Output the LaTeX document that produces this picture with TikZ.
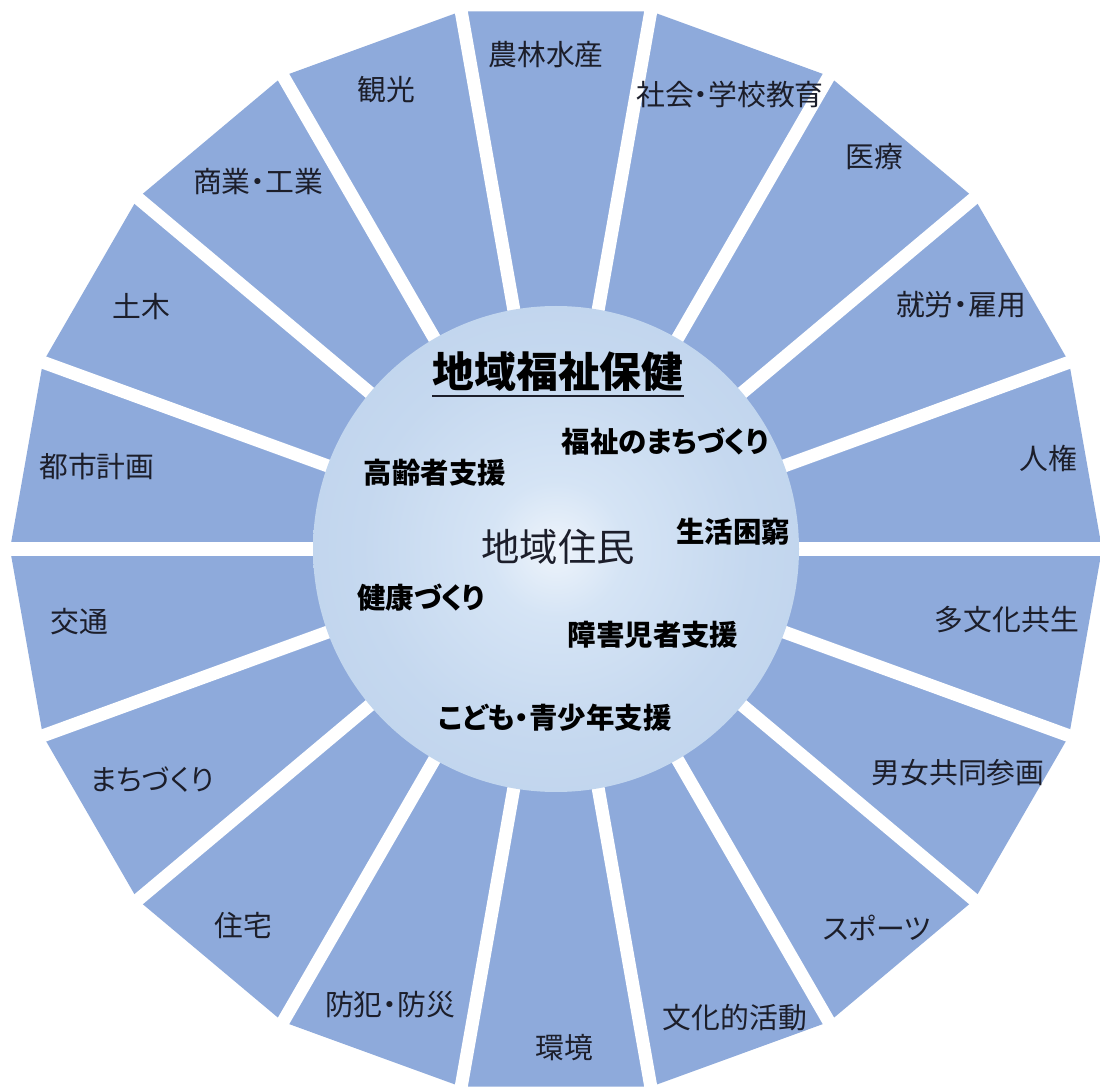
\documentclass[tikz,border=0pt]{standalone}
\usepackage{fontspec}
\setmainfont{Noto Sans CJK JP}[RawFeature=+palt]

\definecolor{wedgeblue}{RGB}{142,170,219}
\definecolor{ink}{RGB}{28,30,42}
\definecolor{glowA}{RGB}{238,244,251}
\definecolor{glowB}{RGB}{213,228,245}
\definecolor{glowC}{RGB}{197,216,239}
\definecolor{glowD}{RGB}{180,203,232}
\pgfdeclareradialshading{glow}{\pgfpoint{0bp}{0bp}}{color(0bp)=(glowA); color(7bp)=(glowB); color(20bp)=(glowC); color(50bp)=(glowD)}

\begin{document}
\begin{tikzpicture}[x=0.02cm, y=-0.02cm,
    gap/.style={draw=white, line width=7.4pt},
    sector/.style={inner sep=0pt, text=ink, font=\fontsize{16.4}{18}\selectfont},
    topic/.style={inner sep=0pt, text=black, font=\bfseries\fontsize{16.2}{18}\selectfont}]
    \useasboundingbox (0,0) rectangle (1100,1091);
    \fill[white] (0,0) rectangle (1100,1091);
    \coordinate (hub) at (556,549);

    %define the wheel
    \begin{scope}[shift={(hub)}]
      \fill[wedgeblue] (0:546) \foreach \a in {20,40,...,340} {-- (\a:546)} -- cycle;
      \foreach \a in {0,20,...,340} \draw[gap] (0,0) -- (\a:600);
    \end{scope}
    \shade[shading=glow] (hub) circle (243);

    %define the outer fields
    \node[sector] (nourin)   at (546,55)   {農林水産};
    \node[sector] (kyouiku)  at (730,95)   {社会・学校教育};
    \node[sector] (iryou)    at (874,157)  {医療};
    \node[sector] (shuurou)  at (961,305)  {就労・雇用};
    \node[sector] (jinken)   at (1048,458) {人権};
    \node[sector] (tabunka)  at (1007,620) {多文化共生};
    \node[sector] (danjo)    at (958,773)  {男女共同参画};
    \node[sector] (sports)   at (877,928)  {スポーツ};
    \node[sector] (bunka)    at (735,1018) {文化的活動};
    \node[sector] (kankyou)  at (564,1048) {環境};
    \node[sector] (bouhan)   at (390,1005) {防犯・防災};
    \node[sector] (juutaku)  at (243,925)  {住宅};
    \node[sector] (machi)    at (152,780)  {まちづくり};
    \node[sector] (koutsuu)  at (79,622)   {交通};
    \node[sector] (toshi)    at (97,467)   {都市計画};
    \node[sector] (doboku)   at (141,307)  {土木};
    \node[sector] (shougyou) at (258,182)  {商業・工業};
    \node[sector] (kankou)   at (386,90)   {観光};

    %define the centre
    \node[topic, font=\bfseries\fontsize{23.8}{26}\selectfont] (title) at (558,372) {地域福祉保健};
    \draw[line width=1.1pt, ink] ([yshift=-4.5pt]title.base west) -- ([yshift=-4.5pt]title.base east);
    \node[inner sep=0pt, text=ink, font=\fontsize{21.8}{24}\selectfont] (jumin) at (558,547) {地域住民};
    \node[topic] (fukushi)  at (665,442) {福祉のまちづくり};
    \node[topic] (koureisha) at (435,473) {高齢者支援};
    \node[topic] (konkyuu)  at (733,532) {生活困窮};
    \node[topic] (kenkou)   at (421,598) {健康づくり};
    \node[topic] (shougai)  at (653,635) {障害児者支援};
    \node[topic] (kodomo)   at (555,718) {こども・青少年支援};
\end{tikzpicture}
\end{document}
